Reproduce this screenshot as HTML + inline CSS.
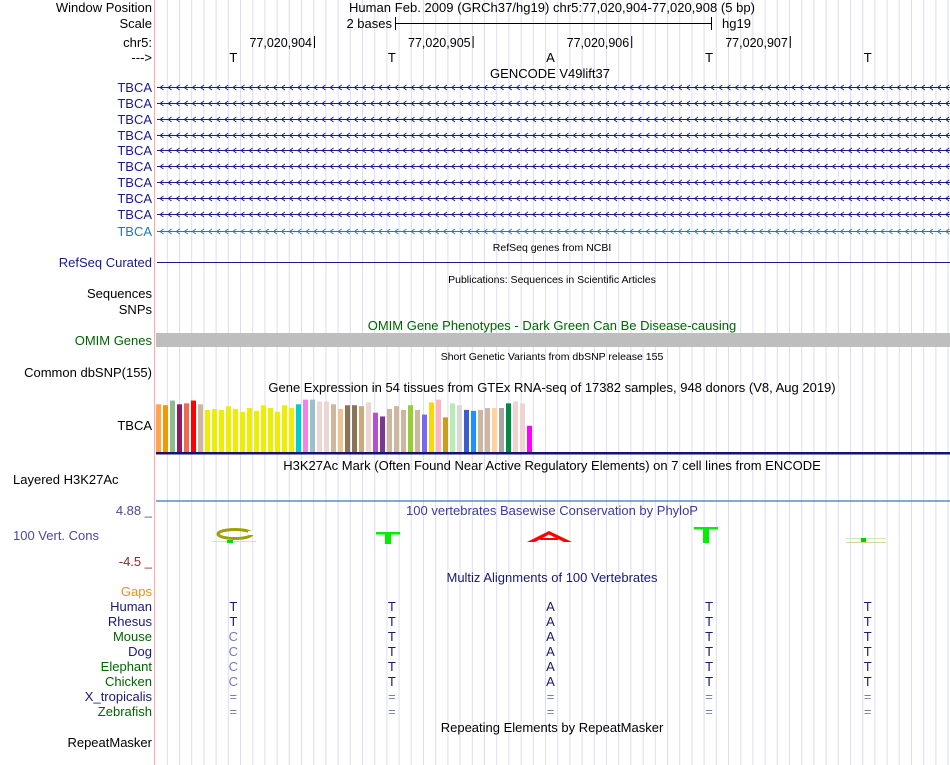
<!DOCTYPE html>
<html><head><meta charset="utf-8"><style>
html,body{margin:0;padding:0;background:#fff;width:950px;height:765px;overflow:hidden}
svg{display:block;font-family:"Liberation Sans",sans-serif}
</style></head><body>
<svg id="g" width="950" height="765" viewBox="0 0 950 765">
<g id="grid"></g>
<line x1="154.5" y1="0" x2="154.5" y2="765" stroke="#ffaaaa"/>
<g id="labels" font-size="13" text-anchor="end"></g>
<g id="tracks"></g>
</svg>
<script>
const NS='http://www.w3.org/2000/svg';
const svg=document.getElementById('g');
function mk(tag,attrs,parent,text){const e=document.createElementNS(NS,tag);for(const k in attrs)e.setAttribute(k,attrs[k]);if(text!==undefined)e.textContent=text;(parent||svg).appendChild(e);return e;}
const grid=document.getElementById('grid');
for(let x=167.3;x<950;x+=12.2){mk('line',{x1:x,y1:0,x2:x,y2:765,stroke:'#dcdcf4','stroke-width':1},grid);}

const bases=['T','T','A','T','T'];
const x0=156, bw=158.6;
function bx(i){return x0+bw*(i+0.5);}

const leftLabels=[
 ['Window Position',12,'#000'],['Scale',28,'#000'],['chr5:',47,'#000'],['--->',62,'#000'],
 ['TBCA',92,'#1a1a8c'],['TBCA',108,'#1a1a8c'],['TBCA',124,'#1a1a8c'],['TBCA',140,'#1a1a8c'],['TBCA',155,'#1a1a8c'],
 ['TBCA',171,'#1a1a8c'],['TBCA',187,'#1a1a8c'],['TBCA',203,'#1a1a8c'],['TBCA',219,'#1a1a8c'],['TBCA',236,'#1a7bc0'],
 ['RefSeq Curated',267,'#1a1a8c'],['Sequences',298,'#000'],['SNPs',314,'#000'],['OMIM Genes',345,'#006400'],
 ['Common dbSNP(155)',377,'#000'],['TBCA',430,'#000'],
 ['Gaps',596,'#f09010'],['Human',611,'#191970'],['Rhesus',626,'#191970'],['Mouse',641,'#006400'],['Dog',656,'#191970'],
 ['Elephant',671,'#006400'],['Chicken',686,'#006400'],['X_tropicalis',701,'#191970'],['Zebrafish',716,'#006400'],
 ['RepeatMasker',747,'#000']
];
const L=document.getElementById('labels');
leftLabels.forEach(l=>{const t=mk('text',{x:152,y:l[1],fill:l[2]},L,l[0]);});
mk('text',{x:13,y:484,'font-size':13,fill:'#000',},svg,'Layered H3K27Ac');
mk('text',{x:13,y:540,'font-size':13,fill:'#4a4a9a',},svg,'100 Vert. Cons');
mk('text',{x:152,y:515,'font-size':13,fill:'#4a4a9a','text-anchor':'end',},svg,'4.88 _');
mk('text',{x:152,y:566,'font-size':13,fill:'#8b2a2a','text-anchor':'end',},svg,'-4.5 _');

const T=document.getElementById('tracks');
function ctext(x,y,s,fs,fill,name){const t=mk('text',{x:x,y:y,'font-size':fs,fill:fill,'text-anchor':'middle'},T,s);return t;}
mk('text',{x:349,y:12,'font-size':13,textLength:406,lengthAdjust:'spacing',},T,'Human Feb. 2009 (GRCh37/hg19) chr5:77,020,904-77,020,908 (5 bp)');
mk('text',{x:392,y:28,'font-size':13,'text-anchor':'end',},T,'2 bases');
mk('line',{x1:395,y1:23.5,x2:711,y2:23.5,stroke:'#000',},T);
mk('line',{x1:395.5,y1:17,x2:395.5,y2:30,stroke:'#000'},T);
mk('line',{x1:711.5,y1:17,x2:711.5,y2:30,stroke:'#000'},T);
mk('text',{x:722,y:28,'font-size':13,},T,'hg19');
const coords=['77,020,904','77,020,905','77,020,906','77,020,907'];
coords.forEach((c,i)=>{const xt=314+158.6*i;mk('text',{x:xt-2,y:47,'font-size':12.5,'text-anchor':'end',},T,c);mk('line',{x1:xt+0.5,y1:36,x2:xt+0.5,y2:48,stroke:'#000',},T);});
bases.forEach((b,i)=>ctext(bx(i)-2,62,b,13,'#000','base-letter'));

ctext(550,78,'GENCODE V49lift37',13,'#000','gencode-title');
const geneY=[87.5,103.5,119.5,135.5,150.5,166.5,182.5,198.5,214.5,231.5];
geneY.forEach((y,i)=>{const c=i==9?'#1a7bc0':'#1a1a8c';
 const g=mk('g',{},T);
 mk('line',{x1:157,y1:y,x2:950,y2:y,stroke:c},g);
 let d='';for(let x=160;x<948;x+=8.1){d+=`M${(x+3.5).toFixed(1)} ${y-2.5} L${x.toFixed(1)} ${y} L${(x+3.5).toFixed(1)} ${y+2.5} `;}
 mk('path',{d:d,fill:'none',stroke:c,'stroke-width':0.9},g);
});
ctext(552,251,'RefSeq genes from NCBI',10.5,'#000','refseq-title');
mk('line',{x1:157,y1:262.5,x2:950,y2:262.5,stroke:'#1a1a8c',},T);
ctext(552,283,'Publications: Sequences in Scientific Articles',10.5,'#000','publications-title');
ctext(552,330,'OMIM Gene Phenotypes - Dark Green Can Be Disease-causing',13,'#006400','omim-title');
mk('rect',{x:156,y:333,width:794,height:14,fill:'#bebebe',},T);
ctext(552,360,'Short Genetic Variants from dbSNP release 155',10.5,'#000','dbsnp-title');
ctext(552,392,'Gene Expression in 54 tissues from GTEx RNA-seq of 17382 samples, 948 donors (V8, Aug 2019)',13,'#000','gtex-title');

const gtexTissues=['Adipose Subcutaneous','Adipose Visceral','Adrenal Gland','Artery Aorta','Artery Coronary','Artery Tibial','Bladder',
'Brain Amygdala','Brain ACC','Brain Caudate','Brain Cerebellar Hemisphere','Brain Cerebellum','Brain Cortex','Brain Frontal Cortex','Brain Hippocampus','Brain Hypothalamus','Brain Nucleus Accumbens','Brain Putamen','Brain Spinal Cord','Brain Substantia Nigra',
'Breast','EBV Lymphocytes','Fibroblasts','Cervix Ectocervix','Cervix Endocervix','Colon Sigmoid','Colon Transverse','Esophagus GEJ','Esophagus Mucosa','Esophagus Muscularis','Fallopian Tube','Heart Atrial Appendage','Heart Left Ventricle','Kidney Cortex','Kidney Medulla','Liver','Lung','Minor Salivary Gland','Muscle Skeletal','Nerve Tibial','Ovary','Pancreas','Pituitary','Prostate','Skin Not Sun Exposed','Skin Sun Exposed','Small Intestine','Spleen','Stomach','Testis','Thyroid','Uterus','Vagina','Whole Blood'];
const gtexValues=[51,50,55,51,52,55,51,45,46,45,49,46,43,47,44,50,47,43,50,47,51,56,56,54,54,51,46,50,50,49,53,42,38,46,49,45,50,45,40,53,56,37,52,50,45,44,45,47,47,47,52,54,52,28];
const gtexColors=['#FFA54F','#EE9A00','#8FBC8F','#8B1C62','#EE6A50','#FF0000','#CDB79E',
'#EEEE00','#EEEE00','#EEEE00','#EEEE00','#EEEE00','#EEEE00','#EEEE00','#EEEE00','#EEEE00','#EEEE00','#EEEE00','#EEEE00','#EEEE00',
'#00CDCD','#EE82EE','#9AC0CD','#EED5D2','#EED5D2','#CDB79E','#EEC591','#8B7355','#8B7355','#CDAA7D','#EED5D2','#B452CD','#7A378B','#CDB79E','#CDB79E','#CDB79E','#9ACD32','#CDB79E','#7A67EE','#FFD700','#FFB6C1','#CD9B1D','#B4EEB4','#D9D9D9','#3A5FCD','#1E90FF','#CDB79E','#CDB79E','#FFD39B','#A6A6A6','#008B45','#EED5D2','#EED5D2','#FF00FF'];
const baseY=452, maxV=62, maxH=58;
function yScale(v){return baseY - v/maxV*maxH;}
function xScale(i){return 156+i*7.0;}
gtexValues.forEach((v,i)=>{const r=mk('rect',{x:xScale(i),y:yScale(v),width:5,height:baseY-yScale(v),fill:gtexColors[i]},T);


mk('title',{},r,gtexTissues[i]);});
mk('rect',{x:156,y:452,width:794,height:2.5,fill:'#14146e',},T);

ctext(552,470,'H3K27Ac Mark (Often Found Near Active Regulatory Elements) on 7 cell lines from ENCODE',13,'#000','h3k27ac-title');
mk('line',{x1:156,y1:501,x2:950,y2:501,stroke:'#2a7ac8','stroke-width':1.3,},T);
ctext(552,515,'100 vertebrates Basewise Conservation by PhyloP',13,'#3a3a9a','phylop-title');

const g1=mk('g',{},T);
mk('ellipse',{cx:235,cy:534,rx:17,ry:4.5,fill:'none',stroke:'#a0a000','stroke-width':3},g1);
mk('rect',{x:248,y:531,width:8,height:4,fill:'#fff'},g1);
mk('line',{x1:212,y1:541.5,x2:256,y2:541.5,stroke:'#bfeebf'},g1);
mk('rect',{x:227,y:540,width:6,height:3,fill:'#00e000'},g1);
function Tlogo(cx,top,h,name){const g=mk('g',{},T);
 mk('rect',{x:cx-12,y:top,width:24,height:2.5,fill:'#00ee00'},g);mk('rect',{x:cx-3,y:top,width:6,height:h,fill:'#00ee00'},g);}
Tlogo(388,532,12,'cons-logo-t');
const ga=mk('g',{},T);
mk('path',{d:'M527 542 L549 531 L572 542 L564 542 L549 534.5 L535 542 Z',fill:'#ff0000'},ga);
mk('rect',{x:540,y:538,width:18,height:2,fill:'#ff0000'},ga);
Tlogo(706,527,16,'cons-logo-t');
const g5=mk('g',{},T);
mk('line',{x1:846,y1:538.5,x2:886,y2:538.5,stroke:'#bfeebf'},g5);
mk('line',{x1:846,y1:542.5,x2:886,y2:542.5,stroke:'#d8d890'},g5);
mk('rect',{x:861,y:538,width:5,height:4,fill:'#00cc00'},g5);

ctext(552,582,'Multiz Alignments of 100 Vertebrates',13,'#191970','multiz-title');
const species=['Human','Rhesus','Mouse','Dog','Elephant','Chicken','X_tropicalis','Zebrafish'];
const aligns=[['T','T','A','T','T'],['T','T','A','T','T'],['C','T','A','T','T'],['C','T','A','T','T'],['C','T','A','T','T'],['C','T','A','T','T'],['=','=','=','=','='],['=','=','=','=','=']];
aligns.forEach((row,r)=>row.forEach((b,i)=>{const same=(b===bases[i]);ctext(bx(i)-2,611+15*r,b,13,same?'#191970':'#7a7ab8','alignment-base-'+species[r].toLowerCase());}));
ctext(552,732,'Repeating Elements by RepeatMasker',13,'#000','repeatmasker-title');
</script>
</body></html>
